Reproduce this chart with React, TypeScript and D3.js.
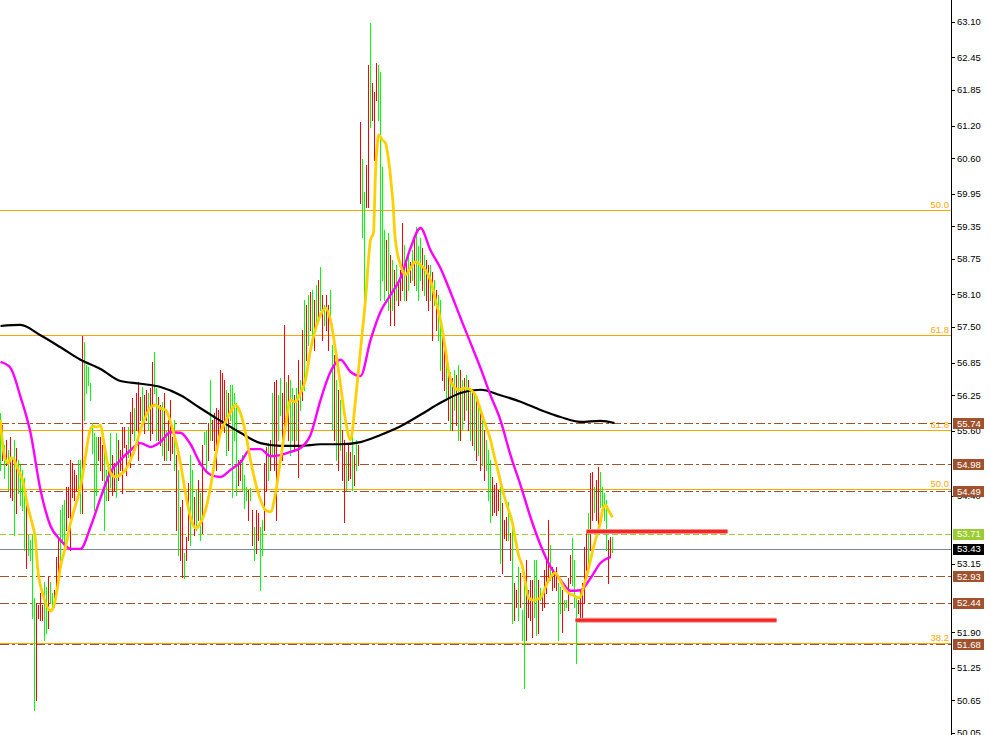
import React from "react";
import * as d3 from "d3";

const W = 991;
const H = 735;
const AXIS_X = 951;

// ---- price bars (high / low / direction), one per bar ----
const barHigh = [
  55.92, 55.70, 55.34, 55.43, 55.24, 55.48, 55.12, 55.43, 55.28, 55.06,
  54.97, 54.88, 54.73, 54.23, 53.68, 53.59, 53.68, 52.53, 52.44, 52.40,
  52.62, 52.40, 52.82, 52.73, 52.91, 52.82, 52.62, 52.67, 53.28, 53.65,
  54.14, 54.23, 54.33, 54.56, 54.56, 55.06, 55.00, 54.88, 54.79, 55.06,
  55.06, 57.34, 57.23, 56.80, 56.77, 56.47, 55.74, 55.56, 55.48, 55.48,
  55.48, 55.34, 55.24, 54.88, 54.93, 55.56, 55.15, 55.00, 55.56, 55.43,
  55.24, 55.67, 55.67, 55.34, 55.67, 55.94, 56.20, 56.01, 56.29, 56.49,
  56.22, 56.40, 56.25, 56.35, 56.29, 56.38, 56.86, 57.04, 56.38, 56.22,
  56.07, 56.13, 56.29, 55.61, 55.79, 56.16, 55.48, 55.79, 55.15, 54.88,
  54.20, 54.33, 53.35, 53.65, 54.64, 55.15, 54.88, 54.38, 54.51, 54.69,
  54.45, 55.34, 55.57, 55.61, 55.74, 56.53, 55.79, 55.92, 56.01, 55.98,
  56.71, 56.66, 56.53, 56.35, 56.29, 56.44, 56.44, 56.29, 56.11, 55.06,
  55.06, 55.15, 54.79, 54.56, 54.51, 54.55, 54.14, 53.83, 54.14, 54.09,
  53.83, 53.96, 55.00, 55.30, 55.37, 55.43, 56.29, 56.49, 56.53, 56.25,
  56.57, 56.29, 57.54, 56.49, 56.62, 56.53, 56.38, 56.25, 56.38, 56.90,
  56.53, 57.45, 58.00, 57.91, 58.09, 58.14, 58.18, 58.00, 58.27, 58.36,
  58.60, 58.09, 57.91, 58.09, 57.91, 58.18, 57.17, 56.99, 56.53, 56.35,
  56.16, 55.61, 55.43, 55.21, 55.34, 55.21, 55.61, 55.15, 55.43, 55.34,
  61.26, 60.59, 59.98, 60.47, 62.31, 63.08, 61.98, 61.81, 62.35, 62.31,
  62.18, 60.44, 59.28, 59.10, 59.23, 58.82, 58.73, 58.55, 58.64, 58.36,
  58.55, 59.41, 59.01, 58.73, 58.82, 58.70, 58.91, 59.15, 59.34, 58.99,
  59.14, 58.95, 58.82, 58.73, 58.64, 58.64, 58.51, 58.36, 58.18, 58.09,
  58.00, 57.45, 57.17, 56.99, 56.80, 56.68, 56.57, 56.71, 56.62, 56.80,
  56.71, 56.53, 56.57, 56.62, 56.53, 56.38, 56.35, 56.25, 56.16, 56.07,
  55.98, 55.79, 55.61, 55.43, 55.24, 55.06, 54.75, 54.60, 54.64, 54.51,
  54.56, 54.27, 53.96, 54.01, 54.29, 53.72, 53.83, 52.80, 52.67, 53.10,
  52.99, 52.31, 52.91, 53.22, 52.67, 52.86, 52.86, 53.22, 53.22, 52.86,
  52.71, 52.62, 53.04, 53.28, 53.96, 53.50, 53.10, 52.99, 53.10, 52.80,
  52.73, 52.67, 52.49, 52.49, 52.89, 53.32, 53.63, 53.22, 52.55, 52.49,
  52.67, 52.80, 53.46, 53.72, 54.09, 54.82, 54.84, 54.56, 54.69, 54.93,
  54.84, 54.56, 54.45, 54.33, 53.59, 53.65, 53.65,
];

const barLow = [
  54.88, 55.06, 54.73, 54.97, 54.51, 54.38, 54.33, 53.68, 54.09, 54.45,
  54.23, 54.14, 53.41, 53.08, 53.32, 53.22, 52.16, 50.47, 50.66, 52.16,
  52.12, 52.12, 51.76, 51.89, 51.98, 52.44, 52.31, 52.36, 52.58, 52.86,
  53.22, 53.59, 53.41, 53.78, 54.01, 53.41, 54.38, 54.33, 54.51, 54.42,
  54.09, 54.09, 55.79, 56.29, 56.44, 56.16, 55.19, 54.14, 54.42, 55.06,
  54.88, 54.69, 53.78, 54.33, 54.33, 54.56, 54.42, 54.51, 54.38, 54.69,
  54.88, 54.45, 55.30, 54.79, 55.12, 54.93, 55.56, 55.43, 55.61, 55.06,
  55.79, 55.74, 55.56, 55.79, 55.61, 55.43, 55.56, 56.29, 55.43, 55.43,
  55.34, 55.15, 55.06, 55.06, 55.24, 55.06, 55.19, 54.88, 53.78, 53.32,
  53.22, 52.91, 52.89, 53.22, 53.59, 53.50, 53.96, 53.68, 53.78, 53.96,
  53.59, 53.72, 55.35, 54.88, 55.06, 55.43, 55.43, 55.24, 54.88, 55.43,
  55.61, 55.79, 55.57, 55.15, 55.24, 55.79, 54.38, 55.43, 54.42, 54.60,
  54.69, 54.51, 54.18, 54.33, 53.96, 54.33, 53.50, 53.22, 53.35, 53.59,
  52.67, 53.32, 53.78, 54.51, 54.69, 54.88, 55.15, 54.88, 53.96, 55.43,
  55.89, 55.06, 55.61, 55.79, 55.43, 55.15, 55.43, 55.24, 55.43, 54.75,
  55.98, 56.16, 56.35, 56.90, 57.17, 57.45, 57.17, 57.08, 57.54, 57.63,
  57.81, 57.26, 57.54, 57.45, 57.08, 57.63, 55.61, 55.43, 55.06, 54.88,
  55.24, 54.69, 53.92, 54.51, 54.69, 54.73, 54.51, 54.60, 54.88, 54.97,
  59.78, 59.15, 58.00, 59.70, 59.70, 61.17, 61.30, 60.57, 61.67, 61.30,
  58.00, 58.36, 58.00, 58.18, 57.81, 57.54, 57.81, 57.54, 58.00, 57.91,
  58.00, 58.18, 58.00, 58.00, 58.18, 58.33, 58.36, 58.27, 58.18, 58.00,
  58.36, 58.18, 58.09, 58.00, 57.81, 58.00, 57.26, 57.91, 57.45, 57.26,
  56.71, 56.53, 56.35, 56.16, 55.79, 55.61, 55.61, 55.98, 55.70, 55.43,
  55.43, 55.61, 55.79, 55.98, 55.61, 55.43, 55.34, 55.24, 55.06, 55.15,
  54.88, 54.97, 54.69, 54.88, 54.33, 53.92, 54.05, 54.11, 54.05, 54.14,
  53.17, 52.99, 53.63, 53.59, 53.59, 53.22, 52.07, 52.12, 52.36, 52.12,
  52.36, 51.76, 50.88, 51.76, 52.18, 52.12, 51.81, 52.18, 51.85, 51.89,
  52.49, 52.31, 52.36, 52.62, 52.86, 52.86, 52.67, 52.73, 52.67, 51.76,
  52.25, 51.90, 52.31, 52.36, 52.31, 52.80, 52.77, 52.36, 51.33, 52.25,
  52.12, 52.12, 52.44, 53.04, 53.17, 53.41, 53.96, 54.11, 53.96, 53.78,
  54.20, 54.20, 53.96, 53.41, 52.80, 53.28, 53.37,
];

const barUp = [
  1,0,1,0,1,0,0,1,0,1,1,1,1,0,1,1,
  1,1,0,0,0,0,1,1,0,1,1,0,0,0,1,
  1,1,0,0,0,0,0,0,1,1,0,1,1,1,1,1,1,1,0,
  0,0,1,1,0,1,0,0,1,0,0,0,0,0,1,0,0,1,0,0,0,1,0,0,1,0,
  0,1,1,0,0,1,0,1,0,0,0,1,0,1,0,0,1,0,0,1,1,0,1,0,1,
  0,1,1,0,1,0,0,0,0,0,0,0,1,0,1,1,1,1,0,0,1,1,1,0,1,0,1,0,0,1,1,
  0,0,1,0,1,0,0,1,1,0,0,1,0,1,1,0,1,0,1,0,1,0,1,0,1,0,1,0,1,0,1,0,0,1,1,0,1,0,1,0,0,1,0,0,1,0,1,0,
  0,1,1,0,0,1,0,0,0,1, 1,1,1,0,1,0,1,0,1,0, 0,0,1,0,1,0,1,0,1,1, 1,0,1,0,0,1,0,1,0,1, 1,0,0,1,0,1,0,1,0,1, 0,1,0,1,0,1,0,1,0,1, 0,1,0,1,1,1,
  0,0,0,0,1,0,0,0,1,0, 1,0,0,1,0,1,1,0,0,0, 0,1,1,0,1,0,0,0,0,1, 0,0,0,1,1,0,1,1,0,0, 1,1,1,0,0,0,0,0,1,0, 0,1,0,0,1,1,1,1,0,0, 1,
];

// ---- moving averages ----
// slow MA: [bar index, price]
const slowMA: [number, number][] = [
  [0, 57.52], [10, 57.54], [20, 57.35], [30, 57.13], [40, 56.90], [50, 56.73],
  [60, 56.51], [70, 56.46], [80, 56.40], [90, 56.25], [100, 56.01], [110, 55.78],
  [120, 55.56], [130, 55.37], [140, 55.32], [150, 55.32], [160, 55.35], [170, 55.35],
  [180, 55.39], [190, 55.52], [200, 55.68], [210, 55.89], [220, 56.11], [230, 56.29],
  [240, 56.35], [250, 56.25], [260, 56.13], [270, 55.98], [280, 55.85], [290, 55.76],
  [300, 55.78], [307, 55.74],
];

// medium MA: one value every 5 bars, starting at bar 0
const midMAStep = 5;
const midMA = [
  56.86, 56.75, 56.22, 55.56, 54.51, 53.85, 53.59, 53.43, 53.43, 53.83,
  54.36, 54.84, 55.06, 55.24, 55.37, 55.30, 55.39, 55.57, 55.56, 55.35,
  54.99, 54.79, 54.75, 54.88, 55.02, 55.26, 55.26, 55.13, 55.15, 55.21,
  55.28, 55.52, 56.16, 56.68, 56.90, 56.68, 56.60, 57.26, 57.78, 58.09,
  58.40, 58.95, 59.32, 58.91, 58.58, 58.14, 57.67, 57.21, 56.75, 56.25,
  55.79, 55.15, 54.60, 54.01, 53.50, 53.10, 52.86, 52.66, 52.67, 52.89,
  53.17, 53.28,
];

// fast MA: [bar index, price]
const fastMA: [number, number][] = [
  [0,55.79],[1,55.37],[2.5,55.06],[4,55.00],[5,55.10],[6.5,55.08],[8.5,54.91],[11,54.69],
  [13.5,54.23],[16,53.87],[17.5,53.59],[18.5,53.10],[21,52.62],[23.5,52.36],[25,52.29],
  [26.5,52.36],[28.5,52.73],[30,53.10],[32.5,53.46],[35,53.90],[37.5,54.23],[40,54.56],
  [42.5,55.12],[44,55.48],[46,55.68],[48.5,55.67],[50,55.70],[51.5,55.43],[53.5,55.00],
  [55,54.82],[57.5,54.75],[60,54.79],[62.5,54.88],[65,55.06],[67.5,55.30],[70,55.61],
  [72.5,55.85],[75,56.03],[77.5,56.07],[80,56.01],[82.5,55.98],[85,55.76],[87.5,55.43],
  [90,55.00],[92.5,54.45],[95,54.01],[97.5,53.81],[100,53.90],[102.5,54.14],[105,54.56],
  [107.5,55.12],[110,55.56],[112.5,55.76],[115,55.94],[117.5,56.07],[120,55.92],
  [122.5,55.56],[125,55.06],[127.5,54.64],[130,54.33],[132.5,54.14],[135,54.11],
  [137.5,54.45],[140,55.06],[142.5,55.67],[145,56.16],[147.5,56.13],[150,56.29],
  [152.5,56.53],[155,57.08],[159,57.63],[162.5,57.85],[165,57.63],[167.5,57.08],
  [170,56.44],[172.5,55.79],[175,55.43],[177.5,56.16],[180,57.08],[182.5,58.00],
  [185,59.10],[186.5,59.23],[187.5,60.33],[188.5,60.88],[189,61.03],[191,60.93],
  [192.5,60.88],[193.5,60.70],[194.5,60.44],[195.5,60.07],[196.5,59.65],[197,59.28],
  [198,58.95],[200,58.64],[202.5,58.46],[205,58.58],[207.5,58.70],[210,58.64],
  [212.5,58.55],[215,58.36],[217.5,58.00],[220,57.63],[222.5,57.08],[224,56.71],
  [226,56.44],[229,56.35],[232.5,56.38],[235,56.35],[237.5,56.25],[240,55.98],
  [242.5,55.70],[245,55.43],[246.5,55.19],[249,54.82],[251,54.51],[253.5,54.20],
  [256,53.90],[257.5,53.59],[259,53.32],[261,53.10],[262.5,52.80],[264,52.53],
  [266.5,52.49],[270,52.53],[272.5,52.73],[275,52.91],[277.5,52.99],[279,52.91],
  [281.5,52.73],[284,52.62],[286.5,52.58],[288.5,52.53],[290,52.55],[291.5,52.73],
  [293.5,52.99],[295,53.22],[296.5,53.46],[298.5,53.72],[300,53.93],[301.5,54.20],
  [302.5,54.23],[304,54.14],[306,54.01],
];

// ---- axis & levels ----
const axisTicks = [
  63.10, 62.45, 61.85, 61.20, 60.60, 59.95, 59.35, 58.75, 58.10, 57.50, 56.85,
  56.25, 55.60, 54.40, 53.15, 51.90, 51.25, 50.65, 50.05,
];

const fibPrices = [59.65, 57.36, 55.61, 54.53, 51.70];
const fibLabels = ["50.0", "61.8", "61.8", "50.0", "38.2"];

const levelPrices = [55.74, 54.98, 54.49, 52.93, 52.44, 51.68];
const signalPrice = 53.71;
const bidPrice = 53.43;

const zoneStart = [293, 287.5];
const zoneEnd = [363.5, 388];
const zonePrice = [53.75, 52.12];

const FONT = "'Liberation Sans', Arial, sans-serif";

export default function App() {
  const y = d3.scaleLinear().domain([50.05, 63.1]).range([733, 22]);
  const x = d3.scaleLinear().domain([0, 306]).range([0.5, 612.5]);
  const cy = (p: number) => Math.round(y(p)) + 0.5;

  const maLine = d3
    .line<[number, number]>()
    .x((d) => x(d[0]))
    .y((d) => y(d[1]))
    .curve(d3.curveMonotoneX);

  const midData: [number, number][] = midMA.map((v, i) => [i * midMAStep, v]);

  const n = Math.min(barHigh.length, barLow.length, barUp.length);
  const bars = [];
  for (let i = 0; i < n; i++) {
    const xx = x(i);
    bars.push(
      <line
        key={i}
        x1={xx}
        x2={xx}
        y1={Math.round(y(barHigh[i]))}
        y2={Math.round(y(barLow[i])) + 1}
        stroke={barUp[i] ? "#00ff00" : "#ff0000"}
        strokeWidth={1}
      />
    );
  }

  const boxes: { p: number; fill: string }[] = [
    ...levelPrices.map((p) => ({ p, fill: "#a0522d" })),
    { p: signalPrice, fill: "#9acd32" },
    { p: bidPrice, fill: "#000000" },
  ];

  return (
    <svg
      width={W}
      height={H}
      style={{ position: "absolute", left: 0, top: 0, background: "#fff" }}
      fontFamily={FONT}
    >
      <rect x={0} y={0} width={W} height={H} fill="#fff" />

      {/* fib levels */}
      {fibPrices.map((p, i) => (
        <g key={"fib" + i}>
          <line x1={0} x2={AXIS_X} y1={cy(p)} y2={cy(p)} stroke="#ffa500" strokeWidth={1} shapeRendering="crispEdges" />
          <text x={949} y={cy(p) - 2.5} textAnchor="end" fontSize={9.5} fill="#ffa500">
            {fibLabels[i]}
          </text>
        </g>
      ))}

      {/* horizontal levels */}
      {levelPrices.map((p, i) => (
        <line key={"lv" + i} x1={0} x2={AXIS_X} y1={cy(p)} y2={cy(p)} stroke="#a0522d" strokeWidth={1} strokeDasharray="9 3 3 3" shapeRendering="crispEdges" />
      ))}
      <line x1={0} x2={AXIS_X} y1={cy(signalPrice)} y2={cy(signalPrice)} stroke="#9acd32" strokeWidth={1} strokeDasharray="6 3" shapeRendering="crispEdges" />
      <line x1={0} x2={AXIS_X} y1={cy(bidPrice)} y2={cy(bidPrice)} stroke="#7d8a99" strokeWidth={1} shapeRendering="crispEdges" />

      {/* bars */}
      <g shapeRendering="crispEdges">{bars}</g>

      {/* moving averages */}
      <path d={maLine(slowMA) || ""} fill="none" stroke="#000" strokeWidth={2.2} />
      <path d={maLine(midData) || ""} fill="none" stroke="#ff00ff" strokeWidth={2.4} />
      <path d={maLine(fastMA) || ""} fill="none" stroke="#ffd000" strokeWidth={2.8} />

      {/* zones */}
      {zonePrice.map((p, i) => (
        <g key={"z" + i}>
          <line x1={x(zoneStart[i])} x2={x(zoneEnd[i])} y1={y(p)} y2={y(p)} stroke="#ff9090" strokeWidth={5} />
          <line x1={x(zoneStart[i])} x2={x(zoneEnd[i])} y1={y(p)} y2={y(p)} stroke="#f02828" strokeWidth={3} />
        </g>
      ))}

      {/* axis */}
      <rect x={AXIS_X} y={0} width={W - AXIS_X} height={H} fill="#fff" />
      <line x1={AXIS_X + 0.5} x2={AXIS_X + 0.5} y1={0} y2={H} stroke="#000" strokeWidth={1} shapeRendering="crispEdges" />
      {axisTicks.map((t, i) => (
        <g key={"t" + i}>
          <line x1={AXIS_X + 1} x2={AXIS_X + 4} y1={cy(t)} y2={cy(t)} stroke="#000" shapeRendering="crispEdges" />
          <text x={957} y={y(t)} dy="0.35em" fontSize={9.5} fill="#000">
            {t.toFixed(2)}
          </text>
        </g>
      ))}

      {/* price boxes */}
      {boxes.map((b, i) => (
        <g key={"b" + i}>
          <rect x={953} y={Math.round(y(b.p)) - 5} width={31} height={11} fill={b.fill} />
          <text x={957} y={y(b.p)} dy="0.37em" fontSize={9.5} fill="#fff">
            {b.p.toFixed(2)}
          </text>
        </g>
      ))}
    </svg>
  );
}
